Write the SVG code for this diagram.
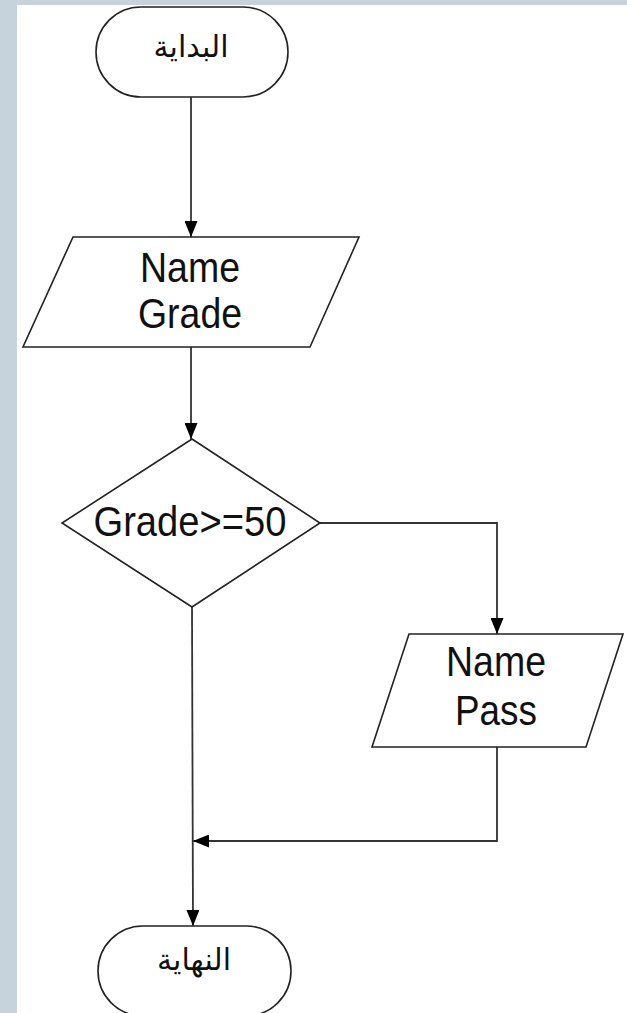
<svg xmlns="http://www.w3.org/2000/svg" width="627" height="1013" viewBox="0 0 627 1013">
<style>
.shape{fill:#fff;stroke:#222;stroke-width:1.6}
.conn{fill:none;stroke:#333;stroke-width:1.8}
.lbl{font-family:"Liberation Sans",Arial,sans-serif;font-size:42px;fill:#111;text-anchor:middle}
.ar{font-family:"DejaVu Sans","Noto Sans",sans-serif;font-size:30px;fill:#111;text-anchor:middle}
</style>
<defs>
<marker id="arr" viewBox="0 0 16 13" refX="16" refY="6.5" markerWidth="16" markerHeight="13" markerUnits="userSpaceOnUse" orient="auto">
<path d="M0,0 L16,6.5 L0,13 Z" fill="#000"/>
</marker>
</defs>
<rect x="0" y="0" width="627" height="1013" fill="#c7d3dc"/>
<rect x="17" y="5" width="610" height="1008" fill="#fff"/>
<g id="connectors">
<line class="conn" x1="191" y1="97" x2="191" y2="237" marker-end="url(#arr)"/>
<line class="conn" x1="191" y1="347" x2="191" y2="439" marker-end="url(#arr)"/>
<polyline class="conn" points="320,523 497,523 497,634" marker-end="url(#arr)"/>
<polyline class="conn" points="497,747 497,841 193,841" marker-end="url(#arr)"/>
<line class="conn" x1="192" y1="607" x2="193" y2="926" marker-end="url(#arr)"/>
</g>
<g id="start">
<rect class="shape" x="96" y="7" width="192" height="90" rx="45" ry="45"/>
<text class="ar" x="191" y="57">البداية</text>
</g>
<g id="input1">
<polygon class="shape" points="73,237 359,237 310,347 23,347"/>
<text class="lbl" x="190" y="282" textLength="100" lengthAdjust="spacingAndGlyphs">Name</text>
<text class="lbl" x="190" y="328" textLength="104" lengthAdjust="spacingAndGlyphs">Grade</text>
</g>
<g id="decision">
<polygon class="shape" points="192,439 320,523 192,607 62,523"/>
<text class="lbl" x="190" y="536" textLength="193" lengthAdjust="spacingAndGlyphs">Grade&gt;=50</text>
</g>
<g id="output1">
<polygon class="shape" points="409,634 623,634 586,747 372,747"/>
<text class="lbl" x="496" y="676" textLength="100" lengthAdjust="spacingAndGlyphs">Name</text>
<text class="lbl" x="496" y="725" textLength="82" lengthAdjust="spacingAndGlyphs">Pass</text>
</g>
<g id="end">
<rect class="shape" x="98" y="926" width="193" height="90" rx="45" ry="45"/>
<text class="ar" x="194" y="970">النهاية</text>
</g>
</svg>
